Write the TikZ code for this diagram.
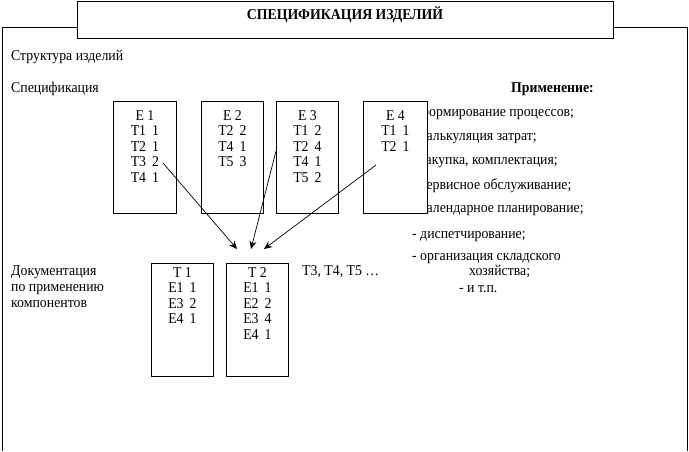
\documentclass[tikz,border=0pt]{standalone}
\usepackage{fontspec}
\setmainfont[FakeStretch=0.92]{Liberation Serif}
\usetikzlibrary{arrows.meta, positioning}

\tikzset{
  card/.style={draw, fill=white, line width=0.8pt, minimum width=63pt, minimum height=112pt, anchor=north west, inner sep=0pt},
  cardtext/.style={anchor=north, align=center, font=\fontsize{15}{15.6}\selectfont, inner sep=0pt},
  plain/.style={anchor=base west, font=\fontsize{15}{16}\selectfont, inner sep=0pt},
  link/.style={-{Stealth[length=8pt, width=7pt]}, line width=0.7pt},
}

\begin{document}
\begin{tikzpicture}[x=1pt, y=-1pt]
  \useasboundingbox (0,0) rectangle (689,451);

  % ===== рамка и заголовок =====
  \draw[line width=1pt] (2,451) -- (2,27) -- (687,27) -- (687,451);
  \node[draw, fill=white, line width=0.8pt, minimum width=536pt, minimum height=37pt, inner sep=0pt] (title) at (345,19.5) {};
  \node[font=\bfseries\fontsize{15}{16}\selectfont, inner sep=0pt] (titletext) at (345,15) {СПЕЦИФИКАЦИЯ ИЗДЕЛИЙ};

  % ===== подписи слева =====
  \node[plain] (struct) at (11,60) {Структура изделий};
  \node[plain] (specl) at (11,92) {Спецификация};
  \node[plain, anchor=north west, align=left] (docl) at (11,265) {Документация\\по применению\\компонентов};

  % ===== применение =====
  \node[plain, font=\bfseries\fontsize{15}{16}\selectfont] (apphead) at (511,92) {Применение:};
  \foreach \t/\y [count=\i] in {- формирование процессов;/116, - калькуляция затрат;/140,
      - закупка{,} комплектация;/164, - сервисное обслуживание;/189,
      - календарное планирование;/212, - диспетчирование;/238, - организация складского/260} {
    \node[plain] (app\i) at (412,\y) {\t};
  }
  \node[plain] (app8) at (469,275) {хозяйства;};
  \node[plain] (app9) at (459,292) {- и т.п.};

  % ===== спецификации изделий =====
  \node[card] (e1) at (113,101) {};
  \node[card, minimum width=62pt] (e2) at (201,101) {};
  \node[card, minimum width=62pt] (e3) at (276,101) {};
  \node[card, minimum width=64pt] (e4) at (363,101) {};
  \node[cardtext, below=9pt of e1.north] (e1t) {E 1\\T1\ \,1\\T2\ \,1\\T3\ \,2\\T4\ \,1};
  \node[cardtext, below=9pt of e2.north] (e2t) {E 2\\T2\ \,2\\T4\ \,1\\T5\ \,3};
  \node[cardtext, below=9pt of e3.north] (e3t) {E 3\\T1\ \,2\\T2\ \,4\\T4\ \,1\\T5\ \,2};
  \node[cardtext, below=9pt of e4.north] (e4t) {E 4\\T1\ \,1\\T2\ \,1};

  % ===== применение компонентов =====
  \node[card, minimum width=62pt, minimum height=113pt] (t1) at (151,263) {};
  \node[card, minimum width=62pt, minimum height=113pt] (t2) at (226,263) {};
  \node[cardtext, below=4pt of t1.north] (t1t) {T 1\\E1\ \,1\\E3\ \,2\\E4\ \,1};
  \node[cardtext, below=4pt of t2.north] (t2t) {T 2\\E1\ \,1\\E2\ \,2\\E3\ \,4\\E4\ \,1};
  \node[plain] (more) at (302,275) {T3, T4, T5 \dots};

  % ===== связи =====
  \coordinate (e1out) at (163,163);
  \coordinate (e3out) at (276,151);
  \coordinate (e4out) at (376,165);
  \coordinate (t2a) at (237,249);
  \coordinate (t2b) at (251,249);
  \coordinate (t2c) at (264,249);
  \draw[link] (e1out) -- (t2a);
  \draw[link] (e3out) -- (t2b);
  \draw[link] (e4out) -- (t2c);
\end{tikzpicture}
\end{document}
